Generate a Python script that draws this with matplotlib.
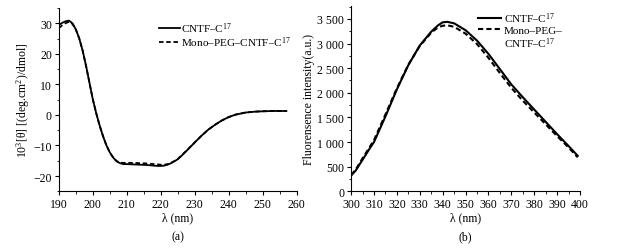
import numpy as np
import matplotlib
matplotlib.use("Agg")
import matplotlib.pyplot as plt
from matplotlib.lines import Line2D
from matplotlib.ticker import AutoMinorLocator

plt.rcParams['font.family'] = ['Liberation Serif', 'DejaVu Serif']
plt.rcParams['mathtext.fontset'] = 'custom'
plt.rcParams['mathtext.rm'] = 'Liberation Serif'
plt.rcParams['mathtext.it'] = 'Liberation Serif:italic'
plt.rcParams['font.size'] = 8.5

# (a) CD spectra
cd_wl = [190, 191, 192, 193, 194, 195, 196, 197, 198, 199, 200, 201, 202, 203, 204, 205, 206,
         207, 208, 209, 210, 212, 214, 216, 218, 219, 220, 221, 222, 223, 224, 225, 226, 228,
         230, 232, 234, 236, 238, 240, 242, 245, 248, 250, 253, 257]
cd_native = [29.5, 30.2, 30.7, 30.9, 30.0, 28.0, 25.0, 21.0, 16.0, 10.5, 5.0, 0.5, -3.5, -7.0,
             -10.0, -12.3, -14.0, -15.2, -15.8, -16.1, -16.1, -16.2, -16.3, -16.4, -16.6, -16.7,
             -16.7, -16.6, -16.3, -15.8, -15.2, -14.5, -13.5, -11.3, -9.0, -6.8, -4.8, -3.2,
             -1.8, -0.7, 0.1, 0.8, 1.1, 1.2, 1.3, 1.3]
cd_peg = [28.5, 29.4, 30.1, 30.5, 29.8, 27.9, 25.0, 21.0, 16.0, 10.5, 5.0, 0.5, -3.5, -7.0,
          -10.0, -12.3, -14.0, -15.1, -15.6, -15.7, -15.7, -15.7, -15.8, -15.9, -16.1, -16.2,
          -16.3, -16.3, -16.1, -15.7, -15.1, -14.4, -13.4, -11.2, -9.0, -6.8, -4.8, -3.2,
          -1.8, -0.7, 0.1, 0.8, 1.1, 1.2, 1.3, 1.3]
cd_xticks = [190, 200, 210, 220, 230, 240, 250, 260]
cd_yticks = [-20, -10, 0, 10, 20, 30]

# (b) fluorescence spectra
fl_wl = [300, 302, 305, 308, 310, 315, 320, 325, 330, 335, 338, 340, 342, 345, 350, 355, 360,
         365, 370, 375, 380, 385, 390, 395, 399]
fl_native = [320, 420, 640, 860, 1000, 1520, 2070, 2560, 2960, 3240, 3370, 3430, 3440, 3410,
             3270, 3060, 2790, 2480, 2170, 1910, 1660, 1410, 1160, 920, 720]
fl_peg = [330, 440, 670, 890, 1040, 1560, 2090, 2570, 2950, 3220, 3330, 3360, 3370, 3340,
          3200, 2990, 2710, 2400, 2100, 1840, 1600, 1360, 1120, 890, 690]
fl_xticks = [300, 310, 320, 330, 340, 350, 360, 370, 380, 390, 400]
fl_yticks = [0, 500, 1000, 1500, 2000, 2500, 3000, 3500]
fl_yticklabels = ['0', '500', '1 000', '1 500', '2 000', '2 500', '3 000', '3 500']

fig = plt.figure(figsize=(6.27, 2.53), dpi=100)
ax1 = fig.add_axes([0.094, 0.240, 0.379, 0.724])
ax2 = fig.add_axes([0.560, 0.240, 0.365, 0.732])

for ax in (ax1, ax2):
    ax.spines['top'].set_visible(False)
    ax.spines['right'].set_visible(False)
    ax.tick_params(direction='out', length=3, width=0.8, pad=2)
    ax.tick_params(which='minor', direction='out', length=1.8, width=0.6)
    ax.xaxis.set_minor_locator(AutoMinorLocator(2))
    ax.yaxis.set_minor_locator(AutoMinorLocator(2))

ax1.plot(cd_wl, cd_native, 'k-', lw=1.3, label='CNTF–C$^{17}$')
ax1.plot(cd_wl, cd_peg, 'k--', lw=1.3, dashes=(2.5, 1.5), label='Mono–PEG–CNTF–C$^{17}$')
ax1.set_xlim(190, 260)
ax1.set_ylim(-25, 35)
ax1.set_xticks(cd_xticks)
ax1.set_yticks(cd_yticks)
ax1.set_xlabel('λ (nm)', labelpad=1)
ax1.set_ylabel('10$^3$[θ] [(deg.cm$^2$)/dmol]', labelpad=1)
ax1.legend(loc='upper right', bbox_to_anchor=(0.975, 0.935), frameon=False, handlelength=1.9,
           handletextpad=0.1, labelspacing=0.0, borderaxespad=0, borderpad=0, fontsize=8)
ax1.text(0.5, -0.245, '(a)', transform=ax1.transAxes, ha='center', va='center')

ax2.plot(fl_wl, fl_native, 'k-', lw=1.5, label='CNTF–C$^{17}$')
ax2.plot(fl_wl, fl_peg, 'k--', lw=1.5, dashes=(2.5, 1.5), label='Mono–PEG–')
blank = Line2D([], [], color='none')
handles, labels = ax2.get_legend_handles_labels()
ax2.set_xlim(300, 400)
ax2.set_ylim(0, 3760)
ax2.set_xticks(fl_xticks)
ax2.set_yticks(fl_yticks)
ax2.set_yticklabels(fl_yticklabels)
ax2.set_xlabel('λ (nm)', labelpad=1)
ax2.set_ylabel('Fluorensence intensity(a.u.)', labelpad=2)
ax2.legend(handles + [blank], labels + ['CNTF–C$^{17}$'], loc='upper left',
           bbox_to_anchor=(0.555, 0.975), frameon=False, handlelength=2.1,
           handletextpad=0.2, labelspacing=0.0, borderaxespad=0, borderpad=0, fontsize=8)
ax2.text(0.5, -0.245, '(b)', transform=ax2.transAxes, ha='center', va='center')

fig.savefig('out.png', dpi=100)
